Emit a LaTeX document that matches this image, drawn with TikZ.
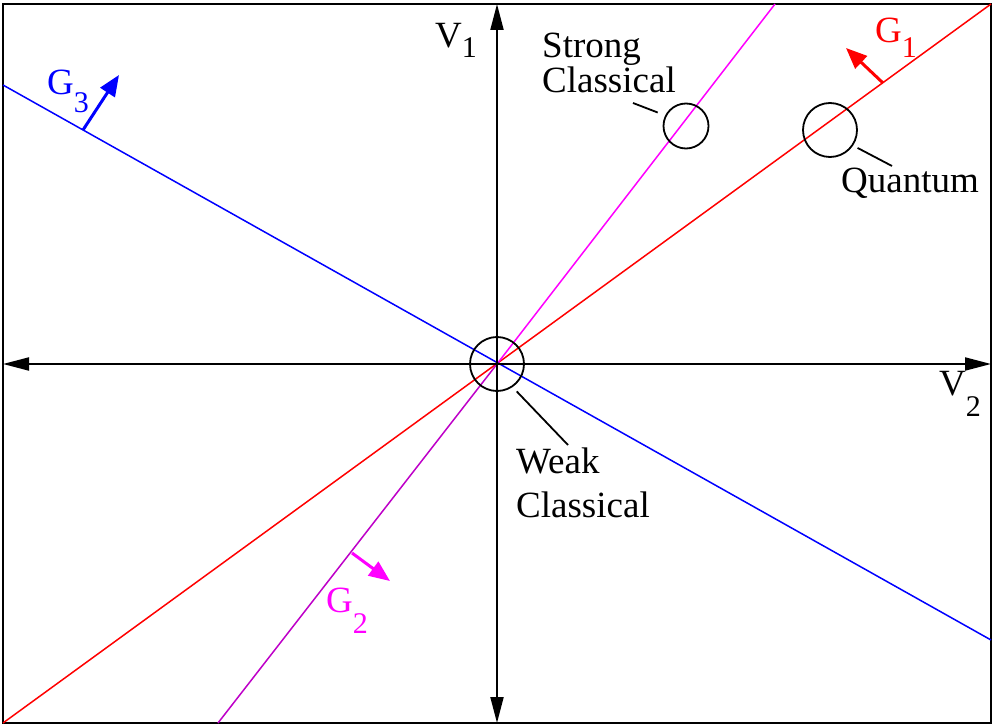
\documentclass[tikz,border=0pt]{standalone}
\usepackage{fontspec}
\setmainfont{Liberation Serif}
\usetikzlibrary{arrows.meta}
\newcommand\lsub[2]{\raisebox{-#1pt}{\fontsize{30}{30}\selectfont #2}}
\definecolor{gtwo}{RGB}{255,0,255}
\definecolor{gtwodark}{RGB}{190,0,200}
\begin{document}
\begin{tikzpicture}[x=1pt,y=-1pt,
  lbl/.style={inner sep=0pt,anchor=base west,font=\fontsize{37}{40}\selectfont},
  axisline/.style={line width=2pt,{Triangle[length=26pt,width=13pt]}-{Triangle[length=26pt,width=13pt]}},
  gline/.style={line width=1.5pt},
  garrow/.style={line width=3pt,-{Triangle[length=21pt,width=17pt]}},
  ring/.style={circle,draw,line width=1.8pt,inner sep=0pt},
  leader/.style={line width=1.8pt}]
\useasboundingbox (0,0) rectangle (996,727);
% frame
\draw[line width=2pt] (3,4) rectangle (991,723);
% coordinates
\coordinate (O) at (497,364);
\coordinate (L) at (3,364);
\coordinate (R) at (991,364);
\coordinate (T) at (497,4);
\coordinate (B) at (497,723);
\coordinate (g1a) at (3,723);
\coordinate (g1b) at (991,4);
\coordinate (g2a) at (218,723);
\coordinate (g2b) at (775,4);
\coordinate (g3a) at (3,85);
\coordinate (g3b) at (991,640);
% constraint lines
\draw[gline,red] (g1a) -- (g1b);
\draw[gline,gtwodark] (g2a) -- (O);
\draw[gline,gtwo] (O) -- (g2b);
\draw[gline,blue] (g3a) -- (g3b);
% axes
\draw[axisline] (L) -- (R);
\draw[axisline] (B) -- (T);
% normal arrows
\coordinate (n1s) at (883,83);  \coordinate (n1e) at (846,48);
\coordinate (n2s) at (352,553); \coordinate (n2e) at (390,581);
\coordinate (n3s) at (83,130);  \coordinate (n3e) at (119,75);
\draw[garrow,red] (n1s) -- (n1e);
\draw[garrow,gtwo] (n2s) -- (n2e);
\draw[garrow,blue] (n3s) -- (n3e);
% circles
\node[ring,minimum size=54pt] (wc) at (O) {};
\node[ring,minimum size=45pt] (sc) at (686,126) {};
\node[ring,minimum size=54pt] (qc) at (830,130) {};
% leader ends
\coordinate (sl) at (633,103);
\coordinate (ql) at (892,166);
\coordinate (wl) at (568,445);
\draw[leader,shorten <=8pt] (sc.153) -- (sl);
\draw[leader,shorten <=5pt] (qc.-34) -- (ql);
\draw[leader,shorten <=6pt] (wc.-56) -- (wl);
% labels
\node[lbl] (v1) at (435,48) {V\lsub{10}{1}};
\node[lbl] (v2) at (939,395) {V\lsub{21}{2}};
\node[lbl] (s1) at (542,58) {Strong};
\node[lbl] (s2) at (542,93) {Classical};
\node[lbl] (q) at (841,193) {Quantum};
\node[lbl] (w1) at (516,473) {Weak};
\node[lbl] (w2) at (516,517) {Classical};
\node[lbl,text=red] (g1) at (875,43) {G\lsub{15}{1}};
\node[lbl,text=gtwo] (g2) at (326,612) {G\lsub{21}{2}};
\node[lbl,text=blue] (g3) at (47,95) {G\lsub{18}{3}};
\end{tikzpicture}
\end{document}
